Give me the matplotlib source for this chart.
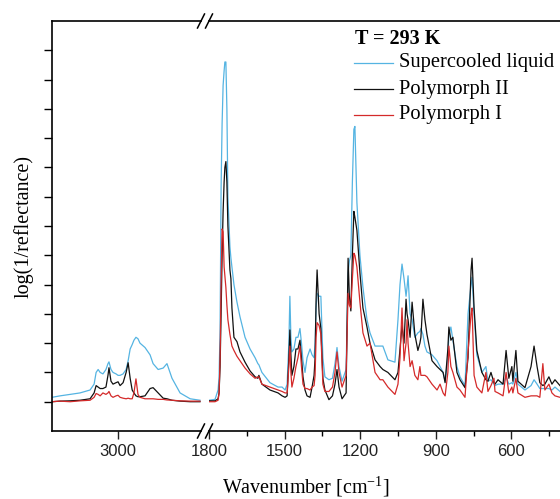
import matplotlib
matplotlib.use('Agg')
import matplotlib.pyplot as plt
from matplotlib.lines import Line2D

# ---------------- data ----------------
# left segment (C-H stretching region)
wn_left = [3262, 3230, 3190, 3151, 3111, 3095, 3087, 3079, 3071, 3060, 3048, 3040, 3036,
           3028, 3020, 3008, 3000, 2992, 2980, 2968, 2960, 2952, 2944, 2937, 2929, 2921,
           2913, 2893, 2873, 2861, 2841, 2821, 2806, 2786, 2754, 2714, 2675]
sl_left = [0.15, 0.2, 0.25, 0.3, 0.4, 0.6, 1.0, 1.1, 1.0, 0.95, 1.1, 1.3, 1.36,
           1.1, 1.0, 0.95, 0.9, 0.9, 0.95, 1.1, 1.4, 1.8, 1.95, 2.1, 2.2, 2.15,
           2.0, 1.85, 1.6, 1.3, 1.1, 1.15, 1.3, 0.8, 0.3, 0.1, 0.05]
p2_left = [0.0, 0.02, 0.03, 0.05, 0.1, 0.3, 0.55, 0.5, 0.45, 0.45, 0.5, 0.9, 1.16,
           0.7, 0.6, 0.65, 0.68, 0.55, 0.65, 1.0, 1.33, 0.8, 0.4, 0.3, 0.2, 0.17,
           0.17, 0.2, 0.45, 0.48, 0.3, 0.12, 0.1, 0.05, 0.02, 0.0, 0.0]
p1_left = [0.0, 0.02, 0.0, 0.03, 0.05, 0.15, 0.28, 0.25, 0.2, 0.3, 0.25, 0.3, 0.35,
           0.2, 0.15, 0.2, 0.22, 0.15, 0.12, 0.1, 0.12, 0.1, 0.1, 0.3, 0.78, 0.25,
           0.15, 0.1, 0.1, 0.1, 0.08, 0.08, 0.06, 0.05, 0.03, 0.02, 0.02]

# right segment (fingerprint region)
wn_right = [1800, 1776, 1764, 1760, 1756, 1752, 1748, 1744, 1740, 1737, 1733, 1729, 1725,
            1717, 1713, 1709, 1701, 1689, 1677, 1657, 1637, 1617, 1606, 1602, 1590, 1558,
            1526, 1510, 1498, 1490, 1483, 1479, 1475, 1471, 1463, 1455, 1447, 1439, 1433,
            1427, 1419, 1411, 1399, 1391, 1383, 1379, 1375, 1371, 1363, 1356, 1348, 1340,
            1324, 1310, 1300, 1292, 1284, 1272, 1256, 1248, 1243, 1237, 1231, 1225, 1221,
            1213, 1201, 1189, 1173, 1161, 1141, 1121, 1110, 1090, 1062, 1050, 1042, 1034,
            1026, 1018, 1014, 1010, 1002, 994, 983, 971, 963, 959, 951, 943, 935, 915,
            895, 883, 871, 863, 852, 848, 840, 832, 816, 804, 784, 772, 760, 756, 748,
            737, 717, 701, 693, 681, 669, 665, 653, 633, 621, 610, 598, 594, 582, 574,
            546, 522, 510, 498, 487, 475, 467, 451, 439, 427, 407]
sl_right = [0.05, 0.08, 0.4, 0.85, 2.5, 7.3, 9.5, 10.8, 11.3, 11.6, 11.6, 10.0, 7.0,
            5.3, 4.9, 4.6, 4.0, 3.4, 2.9, 2.2, 1.8, 1.5, 1.3, 1.26, 1.0, 0.65,
            0.5, 0.5, 0.4, 0.6, 2.0, 3.6, 2.2, 1.7, 1.8, 2.2, 2.2, 2.5, 2.0,
            1.4, 1.0, 1.5, 1.8, 1.6, 1.5, 2.0, 3.2, 3.7, 3.6, 3.6, 1.5, 0.85,
            0.75, 0.8, 1.3, 1.85, 1.2, 0.7, 1.1, 4.4, 4.8, 5.0, 7.5, 9.3, 9.4,
            6.8, 5.0, 3.9, 2.8, 2.35, 1.9, 1.9, 1.9, 1.43, 1.35, 2.8, 4.0, 4.7,
            4.2, 3.6, 3.9, 4.3, 3.0, 2.8, 2.2, 2.35, 2.4, 2.5, 2.3, 1.9, 1.7, 1.6,
            1.4, 1.2, 1.0, 0.7, 1.5, 2.3, 2.55, 2.1, 1.2, 0.85, 0.55, 3.0, 4.0, 4.25, 3.0,
            1.6, 1.0, 1.2, 0.7, 0.75, 0.6, 0.55, 0.6, 0.6, 0.85, 0.6, 0.65, 0.6, 1.0, 0.6,
            0.4, 0.55, 0.75, 0.6, 0.45, 0.45, 0.45, 0.45, 0.4, 0.5, 0.35]
p2_right = [0.03, 0.03, 0.1, 0.3, 1.2, 3.0, 5.0, 6.5, 7.5, 8.0, 8.2, 7.5, 6.0,
            4.5, 4.2, 3.2, 2.2, 2.05, 1.7, 1.35, 1.05, 0.85, 0.8, 0.9, 0.6, 0.4,
            0.3, 0.2, 0.15, 0.2, 1.5, 2.45, 1.6, 0.9, 1.2, 1.8, 1.8, 2.1, 1.5,
            0.85, 0.4, 0.2, 0.15, 0.5, 0.9, 1.5, 3.5, 4.5, 3.0, 2.5, 0.8, 0.4,
            0.07, 0.2, 0.6, 1.1, 0.5, 0.1, 0.3, 4.9, 3.6, 3.1, 5.0, 6.5, 6.3,
            5.85, 4.4, 3.2, 2.55, 2.0, 1.43, 1.2, 1.1, 1.0, 0.75, 1.0, 1.8, 2.6,
            2.0, 3.5, 3.0, 2.8, 2.2, 3.4, 2.3, 1.75, 2.0, 2.2, 3.5, 2.8, 2.3, 1.4,
            1.2, 1.1, 1.0, 0.65, 1.8, 2.55, 2.1, 2.2, 1.0, 0.75, 0.48, 1.5, 4.5, 4.9, 3.2,
            1.75, 1.0, 0.75, 0.7, 1.0, 0.65, 0.6, 0.75, 0.6, 1.75, 0.8, 1.2, 0.7, 1.75, 0.7,
            0.48, 1.2, 1.9, 1.2, 0.65, 0.55, 0.6, 0.85, 0.6, 0.75, 0.55]
p1_right = [0.0, 0.0, 0.05, 0.3, 1.5, 4.0, 5.9, 5.8, 4.6, 4.3, 3.9, 3.3, 2.8,
            2.3, 2.1, 1.9, 1.75, 1.55, 1.4, 1.15, 0.95, 0.8, 0.85, 0.85, 0.6, 0.5,
            0.4, 0.35, 0.3, 0.3, 1.2, 1.9, 1.0, 0.5, 0.8, 1.2, 1.5, 1.9, 1.2,
            0.6, 0.45, 0.45, 0.4, 0.5, 0.55, 0.9, 2.2, 2.7, 2.6, 2.3, 0.6, 0.35,
            0.35, 0.5, 1.0, 1.7, 1.0, 0.5, 0.9, 3.7, 3.3, 3.2, 4.2, 5.07, 5.0,
            4.6, 3.4, 2.35, 1.9, 2.0, 1.0, 0.75, 0.75, 0.5, 0.25, 0.6, 1.5, 3.2,
            1.4, 2.0, 2.8, 2.0, 1.2, 1.4, 0.9, 0.75, 1.2, 0.9, 0.9, 0.9, 0.85, 0.6,
            0.4, 0.6, 0.3, 0.2, 1.0, 1.9, 1.2, 1.0, 0.5, 0.4, 0.15, 1.7, 3.0, 3.2, 0.9,
            0.5, 0.3, 1.0, 0.35, 0.55, 0.8, 0.35, 0.3, 0.2, 1.0, 0.3, 0.5, 0.3, 0.8, 0.3,
            0.15, 0.2, 0.2, 0.2, 0.15, 1.3, 0.4, 0.6, 0.3, 0.2, 0.15]

series_labels = ["Supercooled liquid", "Polymorph II", "Polymorph I"]
series_colors = ["#55b4e2", "#111111", "#d42a2a"]
legend_title = "T = 293 K"

left_ticks = [3000]
right_major = [1800, 1500, 1200, 900, 600]
right_minor = [1650, 1350, 1050, 750, 450]
y_ticks = list(range(0, 13))

# ---------------- figure ----------------
plt.rcParams['mathtext.default'] = 'regular'
W, H = 560, 499
fig = plt.figure(figsize=(W / 100, H / 100), dpi=100)


def rect(l, r, t, b):
    return [l / W, 1 - b / H, (r - l) / W, (b - t) / H]


ax1 = fig.add_axes(rect(52, 201, 21, 431))
ax2 = fig.add_axes(rect(209, 560, 21, 431))

left_series = [sl_left, p2_left, p1_left]
right_series = [sl_right, p2_right, p1_right]
for vals, c in zip(left_series, series_colors):
    ax1.plot(wn_left, vals, color=c, lw=0.9)
for vals, c in zip(right_series, series_colors):
    ax2.plot(wn_right, vals, color=c, lw=0.9)

ax1.set_xlim(3262, 2671)
ax2.set_xlim(1800, 407)
for ax in (ax1, ax2):
    ax.set_ylim(-1, 13)
    for s in ax.spines.values():
        s.set_linewidth(1.2)
    ax.tick_params(axis='x', direction='out', length=5.5, width=1.0,
                   labelsize=12, pad=4, colors='#222222')
    ax.tick_params(axis='x', which='minor', direction='out', length=3.5, width=1.0)

ax1.spines['right'].set_visible(False)
ax2.spines['left'].set_visible(False)
ax2.spines['right'].set_visible(False)

ax1.set_xticks(left_ticks)
ax1.set_yticks(y_ticks)
ax1.set_yticklabels([])
ax1.tick_params(axis='y', direction='out', length=5.5, width=1.0)
ax2.set_xticks(right_major)
ax2.set_xticks(right_minor, minor=True)
ax2.set_yticks([])
for ax in (ax1, ax2):
    for lab in ax.get_xticklabels():
        lab.set_fontfamily('Liberation Sans')

# break marks
def px(x, y):
    return x / W, 1 - y / H

for cx in (201, 209):
    for cy in (21, 431):
        (x0, y0), (x1, y1) = px(cx - 3.5, cy + 7), px(cx + 3.5, cy - 7)
        fig.add_artist(Line2D([x0, x1], [y0, y1], color='black', lw=1.1))

# axis labels
fx, fy = px(306, 487)
fig.text(fx, fy, r'Wavenumber [cm$^{-1}$]', fontfamily='Liberation Serif',
         fontsize=14.5, ha='center', va='center')
fx, fy = px(24, 226)
fig.text(fx, fy, 'log(1/reflectance)', fontfamily='Liberation Serif',
         fontsize=14.5, ha='center', va='center', rotation=90)

# legend (drawn manually)
fx, fy = px(355, 39)
fig.text(fx, fy, legend_title, fontfamily='Liberation Serif', fontweight='bold',
         fontsize=14.5, ha='left', va='center')
rows_y = [63, 89, 115]
for lab, c, ry in zip(series_labels, series_colors, rows_y):
    (x0, y0), (x1, _) = px(354, ry), px(393, ry)
    fig.add_artist(Line2D([x0, x1], [y0, y0], color=c, lw=0.9))
    tx, ty = px(399, ry)
    fig.text(tx, ty, lab, fontfamily='Liberation Serif', fontsize=14.8,
             ha='left', va='center')

fig.savefig('out.png', dpi=100)
